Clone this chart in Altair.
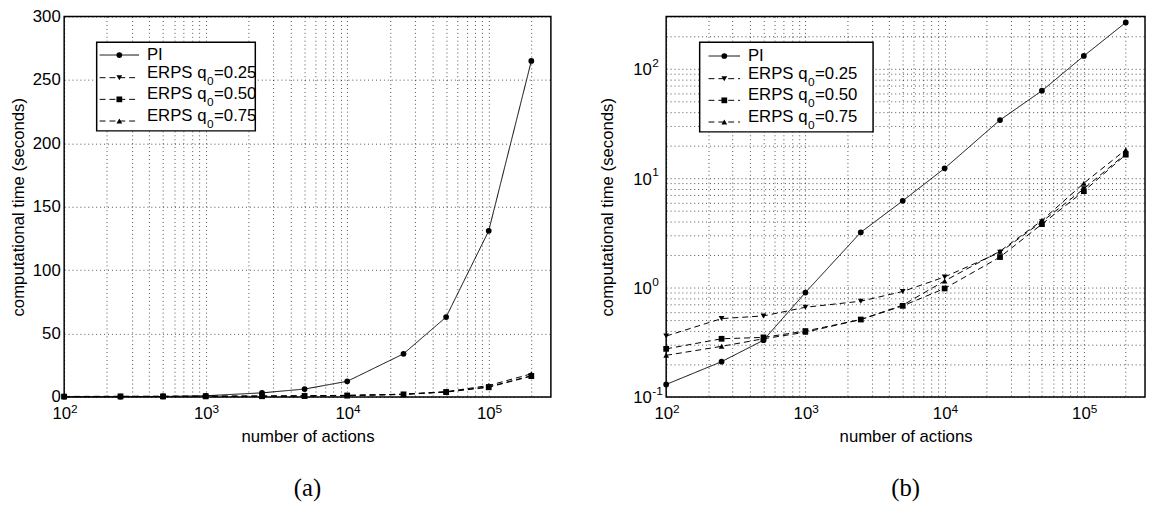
import altair as alt
import pandas as pd

# ---------------- data ----------------
actions = [100, 250, 500, 1000, 2500, 5000, 10000, 25000, 50000, 100000, 200000]
pi_time = [0.13, 0.21, 0.33, 0.90, 3.2, 6.2, 12.3, 34, 63, 131, 265]
erps_025 = [0.36, 0.52, 0.55, 0.66, 0.75, 0.92, 1.25, 2.1, 4.0, 8.0, 16.7]
erps_050 = [0.275, 0.34, 0.35, 0.40, 0.51, 0.68, 0.98, 1.9, 3.8, 7.6, 16.4]
erps_075 = [0.24, 0.29, 0.34, 0.39, 0.51, 0.69, 1.15, 2.15, 4.1, 9.0, 18.2]

series_names = ["PI", "ERPS q0=0.25", "ERPS q0=0.50", "ERPS q0=0.75"]
legend_main = ["PI", "ERPS q", "ERPS q", "ERPS q"]
legend_sub = ["", "0", "0", "0"]
legend_tail = ["", "=0.25", "=0.50", "=0.75"]
series_shapes = ["circle", "triangle-down", "square", "triangle-up"]
series_dash = [[1, 0], [6, 4], [6, 4], [6, 4]]

x_label = "number of actions"
y_label = "computational time (seconds)"
captions = ["(a)", "(b)"]
lin_y_ticks = [0, 50, 100, 150, 200, 250, 300]
x_decades = [100, 1000, 10000, 100000]
x_exponents = ["2", "3", "4", "5"]
y_decades = [0.1, 1, 10, 100]
y_exponents = ["-1", "0", "1", "2"]

FONT = "Liberation Sans"
FS = 17
FS_SMALL = 12

# approximate Arial/Liberation Sans advance widths (em)
ADV = {"E": .667, "R": .722, "P": .667, "S": .667, " ": .278, "q": .556, "0": .556, "1": .556,
       "I": .278, "=": .584, ".": .278, "2": .556, "5": .556, "7": .556}


def text_w(s, size):
    return sum(ADV.get(c, .556) for c in s) * size


rows = []
for name, vals in zip(series_names, [pi_time, erps_025, erps_050, erps_075]):
    for a, v in zip(actions, vals):
        rows.append({"actions": a, "time": v, "series": name})
df = pd.DataFrame(rows)

x_exp_df = pd.DataFrame({"v": x_decades, "e": x_exponents})
y_exp_df = pd.DataFrame({"v": y_decades, "e": y_exponents})


def log_ticks(e0, e1, vmax):
    vals = []
    for e in range(e0, e1 + 1):
        for k in range(1, 10):
            v = round(k * 10.0 ** e, 6)
            if v <= vmax + 1e-9:
                vals.append(v)
    return vals


def decade_expr(decs):
    cond = " || ".join(f"abs(datum.value - {d}) < {d} * 1e-6" for d in decs)
    return f"({cond}) ? '10' : ''"


X_MAX = 275000
x_ticks = log_ticks(2, 5, X_MAX)
y_log_ticks = log_ticks(-1, 2, 300)

grid_kw = dict(grid=True, gridDash=[1, 3], gridColor="#000000", gridOpacity=0.7,
               ticks=False, domain=False, labelOverlap=False, labelFlush=False)

x_enc = alt.X("actions:Q",
              scale=alt.Scale(type="log", domain=[100, X_MAX], nice=False),
              axis=alt.Axis(values=x_ticks, labelExpr=decade_expr(x_decades), labelOffset=-3,
                            labelBaseline="top", title=x_label, labelPadding=9, titlePadding=7,
                            **grid_kw))

shape_enc = alt.Shape("series:N", scale=alt.Scale(domain=series_names, range=series_shapes), legend=None)
dash_enc = alt.StrokeDash("series:N", scale=alt.Scale(domain=series_names, range=series_dash), legend=None)

one = pd.DataFrame({"k": [0]})
MSIZE = 34


def legend_layers(box, line_x, rows_y, text_x):
    layers = [alt.Chart(one).mark_rect(fill="white", stroke="black", strokeWidth=1.5).encode(
        x=alt.value(box[0]), x2=alt.value(box[1]), y=alt.value(box[2]), y2=alt.value(box[3]))]
    mid = (line_x[0] + line_x[1]) / 2
    for main, sub, tail, shape, dash, ry in zip(legend_main, legend_sub, legend_tail,
                                                series_shapes, series_dash, rows_y):
        layers.append(alt.Chart(one).mark_rule(color="black", strokeWidth=1, strokeDash=dash).encode(
            x=alt.value(line_x[0]), x2=alt.value(line_x[1]), y=alt.value(ry)))
        layers.append(alt.Chart(one).mark_point(shape=shape, filled=True, color="black", size=MSIZE,
                                                opacity=1).encode(
            x=alt.value(mid), y=alt.value(ry)))
        shift = -5 if sub else 0
        layers.append(alt.Chart(one).mark_text(text=main, align="left", baseline="middle", font=FONT,
                                               fontSize=FS, color="black", dy=shift).encode(
            x=alt.value(text_x), y=alt.value(ry)))
        if sub:
            w1 = text_w(main, FS)
            w0 = text_w(sub, FS_SMALL)
            layers.append(alt.Chart(one).mark_text(text=sub, align="left", baseline="middle", font=FONT,
                                                   fontSize=FS_SMALL, color="black", dy=shift + 8).encode(
                x=alt.value(text_x + w1 + 0.5), y=alt.value(ry)))
            layers.append(alt.Chart(one).mark_text(text=tail, align="left", baseline="middle", font=FONT,
                                                   fontSize=FS, color="black", dy=shift).encode(
                x=alt.value(text_x + w1 + w0 + 1), y=alt.value(ry)))
    return layers


def x_exp_layer(height):
    return alt.Chart(x_exp_df).mark_text(align="left", baseline="alphabetic", font=FONT,
                                         fontSize=FS_SMALL, color="black", dx=7).encode(
        x=alt.X("v:Q"), y=alt.value(height + 16), text="e:N")


def panel(y_enc, legend, caption, width, height, extra=()):
    lines = alt.Chart(df).mark_line(color="black", strokeWidth=1).encode(
        x=x_enc, y=y_enc, strokeDash=dash_enc, detail="series:N")
    points = alt.Chart(df).mark_point(filled=True, color="black", size=MSIZE, opacity=1).encode(
        x=x_enc, y=y_enc, shape=shape_enc)
    return alt.layer(lines, points, x_exp_layer(height), *extra, *legend).properties(
        width=width, height=height,
        title=alt.TitleParams(caption, orient="bottom", font="Liberation Serif", fontSize=25,
                              fontWeight="normal", color="black", offset=33, anchor="middle", frame="group"))


H = 386
y_lin = alt.Y("time:Q", scale=alt.Scale(domain=[0, 300], nice=False),
              axis=alt.Axis(values=lin_y_ticks, title=y_label, labelPadding=4, titlePadding=5, **grid_kw))
y_log = alt.Y("time:Q", scale=alt.Scale(type="log", domain=[0.1, 300], nice=False),
              axis=alt.Axis(values=y_log_ticks, labelExpr=decade_expr(y_decades), labelOffset=1,
                            title=y_label, labelPadding=15, titlePadding=17, **grid_kw))

y_exp = alt.Chart(y_exp_df).mark_text(align="left", baseline="middle", font=FONT, fontSize=FS_SMALL,
                                      color="black", dy=-6).encode(
    x=alt.value(-14), y=alt.Y("v:Q"), text="e:N")

left = panel(y_lin, legend_layers((33, 194, 26, 116), (36, 76), (39, 62, 84, 106), 84), captions[0], 494, H)
right = panel(y_log, legend_layers((34, 210, 26, 117), (43, 75), (40, 63, 85, 107), 83), captions[1], 486, H,
              extra=(y_exp,))

chart = alt.hconcat(left, right, spacing=46).configure(
    padding={"left": 0, "top": -5, "right": 0, "bottom": 0},
    font=FONT,
).configure_view(stroke="black", strokeWidth=1.5).configure_axis(
    labelFont=FONT, titleFont=FONT, labelFontSize=FS, titleFontSize=FS,
    titleFontWeight="normal", labelColor="black", titleColor="black",
).configure_concat(spacing=46)

chart.save("out.html", embed_options={"renderer": "svg", "actions": False})
